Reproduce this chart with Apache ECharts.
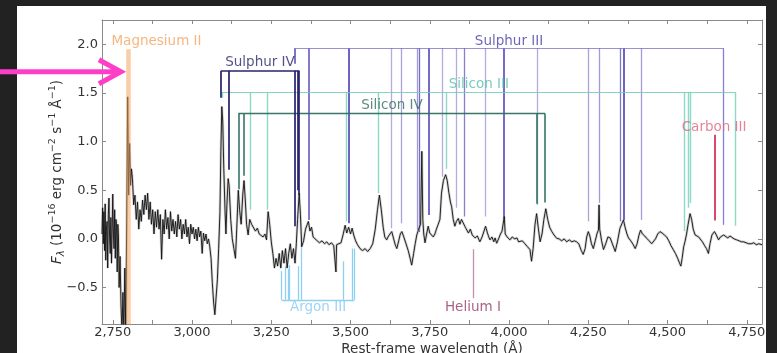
<!DOCTYPE html>
<html><head><meta charset="utf-8">
<script src="https://cdn.jsdelivr.net/npm/echarts@6/dist/echarts.min.js"></script>
<style>
html,body{margin:0;padding:0;background:#222222;width:777px;height:353px;overflow:hidden}
#panel{position:absolute;left:17px;top:6px;width:749px;height:347px;background:#ffffff}
#c{position:absolute;left:0;top:0;width:777px;height:353px}
</style>
</head><body><div id="panel"></div><div id="c"></div>
<script>
// ---------------- data ----------------
const wavelength = [
2716,2718,2720,2722,2724,2726,2728,2730,2732,2734,
2736,2738,2740,2742,2744,2746,2748,2750,2752,2754,
2756,2758,2760,2762,2764,2766,2768,2770,2773,
2776,2779,2782,2785,2788,2791,2794,2797,2800,2803,
2806,2809,2812,2816,2820,2824,2828,2832,2836,2840,
2844,2848,2852,2856,2860,2864,2868,2872,2876,2880,
2884,2888,2892,2896,2900,2904,2908,2912,2916,2920,
2924,2928,2932,2936,2940,2944,2948,2952,2956,2960,
2964,2968,2972,2976,2980,2984,2988,2992,2996,3000,
3004,3008,3012,3016,3020,3024,3028,3032,3036,3040,
3044,3048,3052,3056,3060,3064,3068,3072,3076,3080,
3084,3088,3091,3094,3097,3100,3104,3107,3110,3114,
3117,3122,3127,3132,3137,3141,3146,3150,3155,3160,
3164,3168,3172,3177,3182,3188,3194,3200,3206,3212,
3218,3224,3230,3235,3240,3245,3250,3255,3260,3265,
3270,3275,3280,3285,3290,3295,3300,3305,3310,3315,
3320,3325,3329,3333,3338,3342,3346,3352,3358,3362,
3367,3372,3377,3382,3388,3395,3402,3410,3418,3425,
3432,3440,3447,3452,3454,3456,3462,3470,3477,3483,
3488,3494,3500,3505,3510,3516,3522,3530,3538,3546,
3554,3562,3570,3578,3585,3591,3597,3603,3608,3614,
3620,3625,3630,3636,3641,3646,3652,3657,3662,3668,
3675,3682,3688,3693,3699,3704,3709,3715,3721,3725,
3728,3731,3735,3740,3745,3750,3755,3761,3766,3771,
3777,3782,3787,3793,3800,3805,3810,3815,3819,3824,
3829,3834,3840,3845,3850,3856,3862,3867,3872,3878,
3884,3888,3893,3900,3908,3915,3921,3926,3932,3936,
3940,3946,3952,3956,3961,3967,3973,3978,3982,3985,
3988,3994,4000,4003,4010,4018,4025,4030,4035,4042,
4050,4058,4066,4071,4076,4082,4087,4092,4098,4104,
4110,4116,4122,4128,4135,4142,4150,4158,4166,4174,
4182,4190,4198,4206,4213,4220,4228,4234,4240,4245,
4250,4255,4260,4266,4272,4278,4282,4284,4286,4292,
4298,4305,4312,4319,4326,4335,4342,4350,4356,4361,
4366,4372,4377,4384,4392,4398,4404,4410,4415,4421,
4428,4434,4442,4450,4455,4462,4469,4476,4483,4490,
4497,4504,4511,4518,4525,4532,4538,4542,4546,4551,
4555,4560,4565,4571,4576,4581,4587,4593,4598,4603,
4610,4617,4623,4629,4634,4640,4648,4654,4661,4667,
4672,4677,4683,4690,4697,4703,4710,4718,4726,4733,
4740,4748,4756,4764,4772,4780,4788,4798
];
const flux = [
0.05,0.32,-0.05,0.28,-0.12,0.36,-0.22,0.10,0.18,-0.30,
0.25,0.42,0.00,-0.15,0.22,-0.25,0.08,0.46,0.05,-0.10,
0.30,-0.20,0.20,0.12,-0.34,0.15,0.02,-0.50,-0.18,
-0.68,-0.98,-0.55,-0.98,-0.30,-0.98,0.20,1.46,0.45,0.98,
0.55,0.72,0.62,0.35,0.45,0.20,0.38,0.10,0.30,0.18,
0.40,0.25,0.45,0.30,0.47,0.20,0.38,0.15,0.30,0.05,
0.28,0.12,0.30,0.10,0.25,-0.21,0.20,0.05,0.30,0.10,
0.22,0.00,0.28,0.08,0.20,0.05,0.18,0.02,0.25,0.10,
0.20,0.00,0.15,0.05,0.20,0.02,0.12,-0.05,0.15,0.05,
0.12,0.00,0.10,-0.02,0.12,0.02,0.08,-0.15,0.06,-0.02,
0.05,-0.05,0.00,-0.08,-0.20,-0.45,-0.65,-0.78,-0.60,-0.42,
-0.10,0.27,0.90,1.36,1.20,0.75,0.30,0.05,0.35,0.62,
0.55,0.20,0.00,-0.10,-0.20,0.10,0.50,0.30,0.15,0.45,
0.60,0.40,0.15,0.04,0.20,0.15,0.13,0.08,0.11,0.05,
0.07,0.02,0.05,-0.01,0.28,0.15,-0.03,-0.15,-0.30,-0.20,
-0.28,-0.15,-0.30,-0.12,-0.25,-0.10,-0.30,-0.15,-0.05,-0.20,
-0.10,-0.25,-0.05,0.20,0.47,0.25,-0.08,-0.02,0.10,0.12,
0.18,0.08,0.12,0.02,0.00,-0.02,-0.04,-0.02,-0.05,-0.03,
-0.06,-0.04,-0.07,-0.05,-0.34,-0.06,-0.05,-0.04,0.05,0.14,
0.06,0.12,0.05,0.11,0.04,-0.02,-0.06,-0.10,-0.12,-0.10,
-0.13,-0.10,-0.05,0.10,0.30,0.45,0.30,0.12,0.02,-0.01,
0.03,0.02,0.075,0.00,-0.06,-0.10,-0.02,0.05,0.075,0.02,
-0.05,-0.12,-0.20,-0.27,-0.15,-0.05,0.04,0.10,0.15,0.90,
0.20,0.05,-0.04,0.05,0.13,0.06,0.08,0.02,0.05,0.10,
0.09,0.20,0.47,0.60,0.66,0.60,0.48,0.38,0.33,0.20,
0.13,0.18,0.21,0.15,0.20,0.18,0.12,0.10,0.06,0.10,
0.04,0.06,0.01,0.03,-0.03,0.02,0.08,0.13,0.06,0.02,
-0.01,0.02,-0.03,0.01,-0.045,0.00,0.05,0.08,0.09,0.23,
0.05,0.02,0.03,-0.01,0.02,0.00,0.01,-0.03,-0.04,-0.02,
-0.05,-0.08,-0.11,-0.23,-0.10,0.15,0.26,0.12,-0.03,0.05,
0.20,0.31,0.20,0.12,0.075,0.04,0.007,0.00,-0.02,0.00,
-0.03,-0.01,-0.03,-0.02,-0.03,-0.05,-0.12,-0.16,-0.10,0.02,
0.075,0.03,-0.05,-0.10,-0.02,0.06,0.09,0.35,0.10,-0.02,
-0.11,-0.05,0.02,0.01,-0.05,-0.13,-0.03,0.11,0.12,0.195,
0.12,0.05,0.01,-0.02,-0.06,-0.10,-0.05,0.04,0.09,0.05,
0.03,0.007,-0.02,-0.05,-0.06,0.00,0.05,0.075,0.06,0.04,
0.02,-0.02,-0.07,-0.11,-0.15,-0.20,-0.25,-0.28,-0.20,-0.08,
-0.03,0.05,0.15,0.26,0.20,0.10,0.04,0.03,0.02,0.007,
-0.03,-0.07,-0.10,-0.15,-0.05,0.04,0.075,0.04,-0.01,0.02,
0.03,0.04,0.02,0.01,0.03,0.02,0.00,-0.01,-0.02,-0.03,
-0.03,-0.04,-0.05,-0.05,-0.04,-0.06,-0.05,-0.06
];

const xTickLabels = [2750, 3000, 3250, 3500, 3750, 4000, 4250, 4500, 4750];
const xTickMarks = [2750, 2875, 3000, 3125, 3250, 3375, 3500, 3625, 3750, 3875, 4000, 4125, 4250, 4375, 4500, 4625, 4750];
const yTickLabels = [-0.5, 0, 0.5, 1.0, 1.5, 2.0];

// line identifications: wavelength and flux where each marker ends
const mgIIWave = [2798];
const mgIITop = [1.95];

const sIVWave = [3092, 3117, 3323, 3333, 3338];
const sIVEnd = [1.45, 0.71, 0.13, 0.50, 0.45];
const sIVLevel = 1.728;

const sIIIWave = [3323, 3367, 3495, 3630, 3661.5, 3709, 3716, 3745.6, 3790.8, 3835, 3859, 3926.5, 3982, 4089, 4250, 4284, 4352, 4360.5, 4417.5, 4677];
const sIIIEnd = [1.80, 0.195, 0.16, 0.11, 0.16, 0.09, 0.07, 0.246, 0.64, 0.32, 0.23, 0.23, 0.21, 0.35, 0.18, 0.37, 0.18, 0.195, 0.195, 0.144];
const sIIILevel = 1.958;

const siIIIWave = [3094.6, 3183, 3238.7, 3485, 3589, 3803.5, 4552, 4566, 4572, 4714];
const siIIIEnd = [1.45, 0.30, 0.30, 0.18, 0.47, 0.72, 0.08, 0.32, 0.37, 0.135];
const siIIILevel = 1.509;

const siIVWave = [3146, 3162, 4087.5, 4113.6];
const siIVEnd = [0.51, 0.65, 0.36, 0.375];
const siIVLevel = 1.29;

const cIIIWave = [4649];
const cIIITop = [1.07];
const cIIIEnd = [0.19];

const heIWave = [3885.6];
const heITop = [-0.106];
const heIEnd = [-0.61];

const arIIIWave = [3283, 3293, 3302, 3308, 3335, 3343, 3477, 3505, 3512];
const arIIIEnd = [-0.33, -0.28, -0.31, -0.27, -0.28, -0.05, -0.23, -0.10, -0.10];
const arIIILevel = -0.626;

const ionNames = ['Magnesium II', 'Sulphur IV', 'Sulphur III', 'Silicon III', 'Silicon IV', 'Carbon III', 'Argon III', 'Helium I'];
const ionLabelWave = [2888, 3214.5, 4000, 3905, 3631, 4647, 3397.5, 3886];
const ionLabelFlux = [2.034, 1.818, 2.034, 1.592, 1.376, 1.15, -0.709, -0.709];

// ---------------- styles ----------------
const FONT = 'DejaVu Sans';
const AXIS_COLOR = '#8a8a8a';
const TEXT_COLOR = '#333333';
const sIIIOpacity = [0.9, 0.85, 1, 0.45, 0.5, 0.55, 0.8, 0.95, 0.45, 0.45, 0.7, 0.45, 0.95, 0.45, 0.5, 0.55, 0.75, 1, 0.55, 0.7];
const ionLabelColors = ['#f4a460', '#2b2768', '#4a3ea6', '#52c2a8', '#356b61', '#dc6680', '#86cbf0', '#943a6e'];

function seg(x0, y0, x1, y1, color, opacity, width) {
  return { coords: [[x0, y0], [x1, y1]], lineStyle: { color: color, opacity: opacity, width: width } };
}

const markerItems = [];
// Sulphur III
markerItems.push(seg(sIIIWave[0], sIIILevel, sIIIWave[sIIIWave.length - 1], sIIILevel, '#5548b8', 0.6, 1));
sIIIWave.forEach((w, i) => markerItems.push(seg(w, sIIILevel, w, sIIIEnd[i], '#5548b8', sIIIOpacity[i], sIIIOpacity[i] > 0.8 ? 1.7 : 1.3)));
// Silicon III
markerItems.push(seg(siIIIWave[0], siIIILevel, siIIIWave[siIIIWave.length - 1], siIIILevel, '#6fcfb8', 0.85, 1));
siIIIWave.forEach((w, i) => markerItems.push(seg(w, siIIILevel, w, siIIIEnd[i], '#6fcfb8', 0.8, 1.4)));
// Silicon IV
markerItems.push(seg(siIVWave[0], siIVLevel, siIVWave[siIVWave.length - 1], siIVLevel, '#2e6e60', 0.95, 1.3));
siIVWave.forEach((w, i) => markerItems.push(seg(w, siIVLevel, w, siIVEnd[i], '#2e6e60', 0.9, 1.7)));
// Sulphur IV
markerItems.push(seg(sIVWave[0], sIVLevel, sIVWave[sIVWave.length - 1], sIVLevel, '#27236b', 1, 1.5));
sIVWave.forEach((w, i) => markerItems.push(seg(w, sIVLevel, w, sIVEnd[i], '#27236b', 0.95, 1.8)));
// Argon III
markerItems.push(seg(arIIIWave[0], arIIILevel, arIIIWave[arIIIWave.length - 1], arIIILevel, '#8fd0f2', 1, 1.3));
arIIIWave.forEach((w, i) => markerItems.push(seg(w, arIIILevel, w, arIIIEnd[i], '#8fd0f2', 1, 1.3)));
// Carbon III
cIIIWave.forEach((w, i) => markerItems.push(seg(w, cIIITop[i], w, cIIIEnd[i], '#d9486a', 1, 2)));
// Helium I
heIWave.forEach((w, i) => markerItems.push(seg(w, heITop[i], w, heIEnd[i], '#c98db0', 1, 1.3)));

const mgItems = mgIIWave.map((w, i) => seg(w, mgIITop[i], w, -0.875, '#f4a460', 0.55, 4.5));

const spectrumPoints = wavelength.map((w, i) => [w, flux[i]]);

const chart = echarts.init(document.getElementById('c'), null, { renderer: 'canvas' });

const yName = '{it|F}{sub|λ}{n| (10}{sup|−16}{n| erg cm}{sup|−2}{n| s}{sup|−1}{n| Å}{sup|−1}{n|)}';

const commonTick = { show: true, inside: true, length: 4, lineStyle: { color: AXIS_COLOR, width: 1 } };

chart.setOption({
  backgroundColor: 'transparent',
  animation: false,
  grid: { left: 102, right: 15, top: 20, bottom: 29, containLabel: false, outerBoundsMode: 'none' },
  xAxis: [
    {
      type: 'value', min: 2716, max: 4798, position: 'bottom',
      axisLine: { show: true, onZero: false, lineStyle: { color: AXIS_COLOR, width: 1 } },
      axisTick: Object.assign({}, commonTick, { customValues: xTickMarks }),
      axisLabel: {
        customValues: xTickLabels, color: TEXT_COLOR, fontSize: 13, fontFamily: FONT, margin: 2,
        formatter: v => String(v).replace(/\B(?=(\d{3})+(?!\d))/g, ',')
      },
      splitLine: { show: false },
      name: 'Rest-frame wavelength (Å)', nameLocation: 'middle', nameGap: 18, nameMoveOverlap: false,
      nameTextStyle: { color: TEXT_COLOR, fontSize: 13.5, fontFamily: FONT }
    },
    {
      type: 'value', min: 2716, max: 4798, position: 'top',
      axisLine: { show: true, onZero: false, lineStyle: { color: AXIS_COLOR, width: 1 } },
      axisTick: Object.assign({}, commonTick, { customValues: xTickMarks }),
      axisLabel: { show: false },
      splitLine: { show: false }
    }
  ],
  yAxis: [
    {
      type: 'value', min: -0.875, max: 2.25, position: 'left',
      axisLine: { show: true, onZero: false, lineStyle: { color: AXIS_COLOR, width: 1 } },
      axisTick: Object.assign({}, commonTick, { customValues: yTickLabels }),
      axisLabel: {
        customValues: yTickLabels, color: TEXT_COLOR, fontSize: 13, fontFamily: FONT, margin: 4,
        formatter: v => (v < 0 ? '\u2212' : '') + Math.abs(v).toFixed(1)
      },
      splitLine: { show: false },
      name: yName, nameLocation: 'middle', nameGap: 36, nameRotate: 90, nameMoveOverlap: false,
      nameTextStyle: {
        color: TEXT_COLOR, fontSize: 13.5, fontFamily: FONT,
        rich: {
          n: { fontSize: 13.5, fontFamily: FONT, color: TEXT_COLOR, lineHeight: 18 },
          it: { fontSize: 13.5, fontFamily: FONT, color: TEXT_COLOR, fontStyle: 'italic', lineHeight: 18 },
          sup: { fontSize: 9.5, fontFamily: FONT, color: TEXT_COLOR, lineHeight: 10, verticalAlign: 'top' },
          sub: { fontSize: 10, fontFamily: FONT, color: TEXT_COLOR, fontStyle: 'italic', lineHeight: 10, verticalAlign: 'bottom' }
        }
      }
    },
    {
      type: 'value', min: -0.875, max: 2.25, position: 'right',
      axisLine: { show: true, onZero: false, lineStyle: { color: AXIS_COLOR, width: 1 } },
      axisTick: Object.assign({}, commonTick, { customValues: yTickLabels }),
      axisLabel: { show: false },
      splitLine: { show: false }
    }
  ],
  series: [
    {
      type: 'lines', coordinateSystem: 'cartesian2d', xAxisIndex: 0, yAxisIndex: 0,
      silent: true, z: 3, lineStyle: { opacity: 1 },
      data: markerItems
    },
    {
      type: 'line', xAxisIndex: 0, yAxisIndex: 0, z: 4, silent: true,
      data: spectrumPoints,
      showSymbol: false, symbol: 'none',
      lineStyle: { color: '#9a9a9a', width: 2.6, opacity: 0.45 }
    },
    {
      type: 'line', xAxisIndex: 0, yAxisIndex: 0, z: 5, silent: true,
      data: spectrumPoints,
      showSymbol: false, symbol: 'none',
      lineStyle: { color: '#111111', width: 1, opacity: 0.9 }
    },
    {
      type: 'lines', coordinateSystem: 'cartesian2d', xAxisIndex: 0, yAxisIndex: 0,
      silent: true, z: 6, lineStyle: { opacity: 1 },
      data: mgItems
    },
    {
      type: 'scatter', xAxisIndex: 0, yAxisIndex: 0, z: 8, silent: true,
      symbolSize: 0.1, itemStyle: { color: 'rgba(0,0,0,0)' },
      data: ionNames.map((n, i) => ({
        name: n, value: [ionLabelWave[i], ionLabelFlux[i]],
        label: { color: ionLabelColors[i] }
      })),
      label: { show: true, position: 'inside', formatter: p => p.name, fontSize: 13.5, fontFamily: FONT }
    }
  ]
});

// magenta pointer arrow aimed at the Magnesium II line
const tip = chart.convertToPixel({ xAxisIndex: 0, yAxisIndex: 0 }, [2782, 1.718]);
chart.setOption({
  graphic: [
    { type: 'polyline', z: 100, shape: { points: [[0, tip[1]], [tip[0] - 6, tip[1]]] },
      style: { stroke: '#ff3ec8', lineWidth: 5, fill: null } },
    { type: 'polyline', z: 100, shape: { points: [[tip[0] - 24, tip[1] - 12], [tip[0] - 2, tip[1]], [tip[0] - 24, tip[1] + 12]] },
      style: { stroke: '#ff3ec8', lineWidth: 5, fill: null, lineJoin: 'miter' } }
  ]
});
</script>
</body></html>
